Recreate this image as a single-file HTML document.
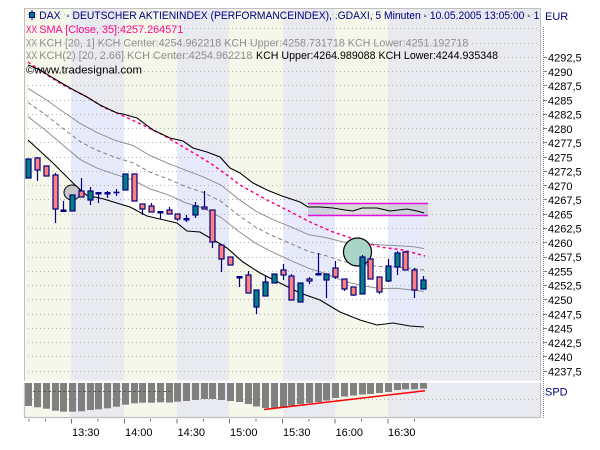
<!DOCTYPE html>
<html><head><meta charset="utf-8"><style>
html,body{margin:0;padding:0;background:#fff;}
svg{display:block;}
text{font-family:"Liberation Sans",sans-serif;font-size:11px;}
</style></head><body>
<svg width="600" height="450" viewBox="0 0 600 450" xmlns="http://www.w3.org/2000/svg">
<defs>
<clipPath id="ch"><polygon points="28,65 40,70 53,78 70,88 87,97 100,105 117,113 123,114 137,118 153,130 170,138 183,141 193,148 207,152 220,157 230,168 240,173 253,183 267,190 282,196 300,202 308,207 320,207 333,208 345,210 353,211 362,208 377,208 390,211 407,209 417,211 424,213 424,327 410,326 393,323 377,325 360,320 340,312 320,300 300,293 280,283 260,273 243,262 227,248 217,242 200,232 187,231 177,223 160,219 147,216 130,207 120,204 102,198.5 87,195.5 75,185 53,163 28,140"/></clipPath>
<clipPath id="plot"><rect x="24" y="8" width="517" height="373"/></clipPath>
</defs>
<rect width="600" height="450" fill="#fff"/>
<!-- main bands -->
<g>
<rect x="24" y="8" width="47" height="372.7" fill="#f4f7e9"/>
<rect x="71" y="8" width="53" height="372.7" fill="#e9e9f0"/>
<rect x="124" y="8" width="53" height="372.7" fill="#f4f7e9"/>
<rect x="177" y="8" width="52" height="372.7" fill="#e9e9f0"/>
<rect x="229" y="8" width="54" height="372.7" fill="#f4f7e9"/>
<rect x="283" y="8" width="52" height="372.7" fill="#e9e9f0"/>
<rect x="335" y="8" width="53" height="372.7" fill="#f4f7e9"/>
<rect x="388" y="8" width="153" height="372.7" fill="#e9e9f0"/>
</g>
<!-- channel fill -->
<g clip-path="url(#ch)">
<rect x="24" y="8" width="47" height="373" fill="#ffffff"/>
<rect x="71" y="8" width="53" height="373" fill="#e6eafb"/>
<rect x="124" y="8" width="53" height="373" fill="#ffffff"/>
<rect x="177" y="8" width="52" height="373" fill="#e6eafb"/>
<rect x="229" y="8" width="54" height="373" fill="#ffffff"/>
<rect x="283" y="8" width="52" height="373" fill="#e6eafb"/>
<rect x="335" y="8" width="53" height="373" fill="#ffffff"/>
<rect x="388" y="8" width="153" height="373" fill="#e6eafb"/>
</g>
<!-- lower bands -->
<g>
<rect x="24" y="382.7" width="47" height="34.3" fill="#f4f7e9"/>
<rect x="71" y="382.7" width="53" height="34.3" fill="#e9e9f0"/>
<rect x="124" y="382.7" width="53" height="34.3" fill="#f4f7e9"/>
<rect x="177" y="382.7" width="52" height="34.3" fill="#e9e9f0"/>
<rect x="229" y="382.7" width="54" height="34.3" fill="#f4f7e9"/>
<rect x="283" y="382.7" width="52" height="34.3" fill="#e9e9f0"/>
<rect x="335" y="382.7" width="53" height="34.3" fill="#f4f7e9"/>
<rect x="388" y="382.7" width="153" height="34.3" fill="#e9e9f0"/>
</g>
<!-- grid -->
<path d="M24 14.5H541M24 28.5H541M24 43.5H541M24 57.5H541M24 71.5H541M24 85.5H541M24 100.5H541M24 114.5H541M24 128.5H541M24 142.5H541M24 157.5H541M24 171.5H541M24 185.5H541M24 199.5H541M24 214.5H541M24 228.5H541M24 242.5H541M24 257.5H541M24 271.5H541M24 285.5H541M24 299.5H541M24 314.5H541M24 328.5H541M24 342.5H541M24 356.5H541M24 371.5H541M24 399.5H541" stroke="#b4b4b4" stroke-width="1" stroke-dasharray="1 3" fill="none"/>
<!-- box -->
<rect x="308" y="203.5" width="120" height="12" fill="#a0a0a8" fill-opacity="0.35"/>
<path d="M308 203.5H428M308 215.5H428" stroke="#e010e0" stroke-width="1.5"/>
<!-- KCH1 upper / lower -->
<polyline fill="none" stroke="#909090" stroke-width="1" points="28,88.4 45,98.9 62,111 80,123.3 97,132.6 115,140.3 133,145.5 150,155.5 168,163.3 186,170.3 203,176.8 221,185 238,198.7 256,211.3 273,219.6 291,226.9 309,234.8 326,237.6 344,242.1 361,243.3 379,244.8 396,245.6 414,246.7 424,248.6"/>
<polyline fill="none" stroke="#909090" stroke-width="1" points="28,116.6 45,129.9 62,144.3 80,159.4 97,168.1 115,174.3 133,180 150,188.9 168,194.8 186,203 203,207.9 221,217.5 238,230.9 256,243.6 273,252.3 291,260.6 309,268.4 326,273.7 344,281.2 361,285.4 379,288.5 396,288.2 414,290.2 424,291.4"/>
<!-- center dashed -->
<polyline fill="none" stroke="#808080" stroke-width="1" stroke-dasharray="4 3" points="28,102.5 45,114.4 62,127.7 80,141.4 97,150.4 115,157.3 133,162.8 150,172.2 168,179 186,186.7 203,192.4 221,201.3 238,214.8 256,227.5 273,236 291,243.8 309,251.6 326,255.7 344,261.7 361,264.3 379,266.6 396,266.9 414,268.5 424,270"/>
<!-- SMA -->
<polyline fill="none" stroke="#ff0080" stroke-width="1.5" stroke-dasharray="3 3" points="28,62 47,75 63,85 87,97 103,107 117,113 130,119 147,127 163,135 180,145 197,155 213,165 227,175 240,185 267,200 287,210 310,222 333,232 357,240 380,247 403,250 425,256"/>
<!-- KCH2 upper / lower -->
<polyline fill="none" stroke="#000" stroke-width="1.1" points="28,65 40,70 53,78 70,88 87,97 100,105 117,113 123,114 137,118 153,130 170,138 183,141 193,148 207,152 220,157 230,168 240,173 253,183 267,190 282,196 300,202 308,207 320,207 333,208 345,210 353,211 362,208 377,208 390,211 407,209 417,211 424,213"/>
<polyline fill="none" stroke="#000" stroke-width="1.1" points="28,140 53,163 75,185 87,195.5 102,198.5 120,204 130,207 147,216 160,219 177,223 187,231 200,232 217,242 227,248 243,262 260,273 280,283 300,293 320,300 340,312 360,320 377,325 393,323 410,326 424,327"/>
<!-- circles -->
<ellipse cx="72" cy="192.5" rx="8" ry="7.5" fill="#c6c6c6" stroke="#000" stroke-width="1"/>
<circle cx="357.5" cy="252" r="14" fill="#a9d5c9" stroke="#000" stroke-width="1.2"/>
<!-- candles -->
<g stroke="#000080" stroke-width="1.2">
<rect x="26" y="159" width="5" height="19" fill="#008080"/>
<line x1="37.5" y1="157" x2="37.5" y2="181"/><rect x="35" y="158" width="5" height="12" fill="#ff8080"/>
<rect x="44" y="166" width="5" height="10" fill="#ff8080"/>
<line x1="55.5" y1="173" x2="55.5" y2="223"/><rect x="53" y="175" width="5" height="34" fill="#ff8080"/>
<line x1="63.5" y1="201" x2="63.5" y2="212"/><rect x="60.5" y="209.5" width="6" height="2.5" fill="#000080" stroke="none"/>
<rect x="70" y="195" width="5" height="16" fill="#008080"/>
<line x1="81.5" y1="178" x2="81.5" y2="197"/><rect x="79" y="191" width="5" height="6" fill="#ff8080"/>
<line x1="90.5" y1="187" x2="90.5" y2="205"/><rect x="88" y="191" width="5" height="9" fill="#008080"/>
<line x1="98.5" y1="193" x2="98.5" y2="203"/><rect x="95.5" y="192" width="6" height="2.5" fill="#000080" stroke="none"/>
<line x1="107.5" y1="191" x2="107.5" y2="198"/><rect x="104.5" y="192" width="6" height="2.5" fill="#000080" stroke="none"/>
<line x1="116.5" y1="189" x2="116.5" y2="196"/><line x1="113.5" y1="192.5" x2="119.5" y2="192.5" stroke-width="1.6"/>
<rect x="123" y="174" width="5" height="16" fill="#008080"/>
<rect x="132" y="174" width="5" height="27" fill="#ff8080"/>
<line x1="142.5" y1="204" x2="142.5" y2="215"/><rect x="140" y="204" width="5" height="5" fill="#ff8080"/>
<line x1="151.5" y1="203" x2="151.5" y2="212"/><rect x="149" y="206" width="5" height="6" fill="#ff8080"/>
<line x1="160.5" y1="212" x2="160.5" y2="219"/><rect x="157.5" y="211" width="6" height="2.5" fill="#000080" stroke="none"/>
<line x1="169.5" y1="207" x2="169.5" y2="214"/><rect x="167" y="210" width="5" height="4" fill="#ff8080"/>
<line x1="177.5" y1="214" x2="177.5" y2="221"/><rect x="175" y="214" width="5" height="5" fill="#ff8080"/>
<line x1="186.5" y1="215" x2="186.5" y2="222"/><rect x="183.5" y="218" width="6" height="2.5" fill="#000080" stroke="none"/>
<line x1="195.5" y1="202" x2="195.5" y2="218"/><rect x="193" y="206" width="5" height="9" fill="#008080"/>
<line x1="204.5" y1="191" x2="204.5" y2="209"/><rect x="202" y="207" width="5" height="2" fill="#ff8080"/>
<line x1="212.5" y1="210" x2="212.5" y2="248"/><rect x="210" y="210" width="5" height="32" fill="#ff8080"/>
<line x1="221.5" y1="245" x2="221.5" y2="272"/><rect x="219" y="245" width="5" height="14" fill="#ff8080"/>
<rect x="228" y="257" width="5" height="8" fill="#ff8080"/>
<line x1="239.5" y1="277" x2="239.5" y2="287"/><rect x="236.5" y="276" width="6" height="2.5" fill="#000080" stroke="none"/>
<line x1="248.5" y1="271" x2="248.5" y2="293"/><rect x="246" y="275" width="5" height="18" fill="#ff8080"/>
<line x1="256.5" y1="290" x2="256.5" y2="314"/><rect x="254" y="290" width="5" height="17" fill="#008080"/>
<line x1="265.5" y1="275" x2="265.5" y2="296"/><rect x="263" y="282" width="5" height="14" fill="#008080"/>
<rect x="272" y="274" width="5" height="9" fill="#008080"/>
<line x1="283.5" y1="264" x2="283.5" y2="280"/><rect x="281" y="270" width="5" height="5" fill="#ff8080"/>
<line x1="291.5" y1="274" x2="291.5" y2="300"/><rect x="289" y="276" width="5" height="24" fill="#ff8080"/>
<rect x="298" y="283" width="5" height="19" fill="#008080"/>
<line x1="309.5" y1="277" x2="309.5" y2="284"/><rect x="307" y="279" width="5" height="2" fill="#ff8080"/>
<line x1="318.5" y1="253" x2="318.5" y2="274"/><rect x="315.5" y="273" width="6" height="2.5" fill="#000080" stroke="none"/>
<line x1="326.5" y1="274" x2="326.5" y2="298"/><rect x="324" y="274" width="5" height="6" fill="#008080"/>
<line x1="335.5" y1="261" x2="335.5" y2="279"/><rect x="333" y="268" width="5" height="9" fill="#ff8080"/>
<line x1="344.5" y1="279" x2="344.5" y2="291"/><rect x="342" y="279" width="5" height="10" fill="#ff8080"/>
<line x1="353.5" y1="287" x2="353.5" y2="296"/><rect x="351" y="287" width="5" height="8" fill="#ff8080"/>
<line x1="362.5" y1="255" x2="362.5" y2="294"/><rect x="360" y="257" width="5" height="37" fill="#008080"/>
<rect x="368" y="259" width="5" height="20" fill="#ff8080"/>
<line x1="379.5" y1="277" x2="379.5" y2="294"/><rect x="377" y="277" width="5" height="15" fill="#ff8080"/>
<line x1="388.5" y1="259" x2="388.5" y2="282"/><rect x="386" y="266" width="5" height="15" fill="#008080"/>
<line x1="397.5" y1="251" x2="397.5" y2="275"/><rect x="395" y="253" width="5" height="14" fill="#008080"/>
<line x1="405.5" y1="251" x2="405.5" y2="270"/><rect x="403" y="252" width="5" height="18" fill="#ff8080"/>
<line x1="414.5" y1="268" x2="414.5" y2="298"/><rect x="412" y="270" width="5" height="20" fill="#ff8080"/>
<line x1="423.5" y1="276" x2="423.5" y2="289"/><rect x="421" y="280" width="5" height="9" fill="#008080"/>
</g>
<!-- separator -->
<rect x="24" y="380.7" width="517" height="2" fill="#fff"/>
<!-- lower panel bars -->
<g fill="#808080">
<rect x="25" y="383" width="7" height="23"/>
<rect x="34" y="383" width="7" height="24.3"/>
<rect x="43" y="383" width="7" height="25.7"/>
<rect x="52" y="383" width="7" height="27.7"/>
<rect x="60" y="383" width="7" height="28.7"/>
<rect x="69" y="383" width="7" height="28.7"/>
<rect x="78" y="383" width="7" height="28.3"/>
<rect x="87" y="383" width="7" height="27"/>
<rect x="95" y="383" width="7" height="26.3"/>
<rect x="104" y="383" width="7" height="25.3"/>
<rect x="113" y="383" width="7" height="23.7"/>
<rect x="122" y="383" width="7" height="21.7"/>
<rect x="131" y="383" width="7" height="20.3"/>
<rect x="139" y="383" width="7" height="19.7"/>
<rect x="148" y="383" width="7" height="19.7"/>
<rect x="157" y="383" width="7" height="19.3"/>
<rect x="166" y="383" width="7" height="19.5"/>
<rect x="174" y="383" width="7" height="18.7"/>
<rect x="183" y="383" width="7" height="18"/>
<rect x="192" y="383" width="7" height="17"/>
<rect x="201" y="383" width="7" height="16"/>
<rect x="209" y="383" width="7" height="16"/>
<rect x="218" y="383" width="7" height="17"/>
<rect x="227" y="383" width="7" height="18"/>
<rect x="236" y="383" width="7" height="19"/>
<rect x="245" y="383" width="7" height="21"/>
<rect x="253" y="383" width="7" height="23.5"/>
<rect x="262" y="383" width="7" height="25"/>
<rect x="271" y="383" width="7" height="25"/>
<rect x="280" y="383" width="7" height="24"/>
<rect x="288" y="383" width="7" height="22.5"/>
<rect x="297" y="383" width="7" height="21"/>
<rect x="306" y="383" width="7" height="20"/>
<rect x="315" y="383" width="7" height="19"/>
<rect x="323" y="383" width="7" height="17.5"/>
<rect x="332" y="383" width="7" height="15"/>
<rect x="341" y="383" width="7" height="13.5"/>
<rect x="350" y="383" width="7" height="12.5"/>
<rect x="359" y="383" width="7" height="11.5"/>
<rect x="367" y="383" width="7" height="11"/>
<rect x="376" y="383" width="7" height="10"/>
<rect x="385" y="383" width="7" height="9"/>
<rect x="394" y="383" width="7" height="7"/>
<rect x="402" y="383" width="7" height="6.3"/>
<rect x="411" y="383" width="7" height="6.3"/>
<rect x="420" y="383" width="7" height="5.7"/>
</g>
<line x1="33" y1="391.5" x2="173" y2="391.5" stroke="#5e5e5e" stroke-width="1" stroke-dasharray="3 2"/>
<line x1="264" y1="409.5" x2="425" y2="390.8" stroke="#ff0000" stroke-width="1.5"/>
<!-- borders -->
<path d="M24.5 380.5V8.5H540.5V380.5" fill="none" stroke="#c0c0c0" stroke-width="1"/>
<path d="M24.5 382.7V417.5H540.5V382.7" fill="none" stroke="#c0c0c0" stroke-width="1.2"/>
<!-- right axis -->
<line x1="543.5" y1="27" x2="543.5" y2="418" stroke="#808080" stroke-width="1" stroke-dasharray="1 1"/>
<path d="M543 57.5h4M543 71.5h4M543 85.5h4M543 100.5h4M543 114.5h4M543 128.5h4M543 142.5h4M543 157.5h4M543 171.5h4M543 185.5h4M543 199.5h4M543 214.5h4M543 228.5h4M543 242.5h4M543 257.5h4M543 271.5h4M543 285.5h4M543 299.5h4M543 314.5h4M543 328.5h4M543 342.5h4M543 356.5h4M543 371.5h4" stroke="#808080" stroke-width="1"/>
<g fill="#000">
<text x="548" y="61.5">4292,5</text>
<text x="548" y="75.8">4290</text>
<text x="548" y="90">4287,5</text>
<text x="548" y="104.3">4285</text>
<text x="548" y="118.6">4282,5</text>
<text x="548" y="132.8">4280</text>
<text x="548" y="147.1">4277,5</text>
<text x="548" y="161.4">4275</text>
<text x="548" y="175.6">4272,5</text>
<text x="548" y="189.9">4270</text>
<text x="548" y="204.1">4267,5</text>
<text x="548" y="218.4">4265</text>
<text x="548" y="232.7">4262,5</text>
<text x="548" y="246.9">4260</text>
<text x="548" y="261.2">4257,5</text>
<text x="548" y="275.5">4255</text>
<text x="548" y="289.7">4252,5</text>
<text x="548" y="304">4250</text>
<text x="548" y="318.3">4247,5</text>
<text x="548" y="332.5">4245</text>
<text x="548" y="346.8">4242,5</text>
<text x="548" y="361.1">4240</text>
<text x="548" y="375.3">4237,5</text>
</g>
<text x="545" y="20" fill="#000080">EUR</text>
<text x="545" y="395.5" fill="#000080">SPD</text>
<!-- x axis ticks -->
<path d="M29 419v2.5M45.5 419v2.5M71.5 419v4.5M98 419v2.5M124.5 419v4.5M150.5 419v2.5M177 419v4.5M203.5 419v2.5M229.5 419v4.5M256 419v2.5M282.5 419v4.5M309 419v2.5M335 419v4.5M361.5 419v2.5M388 419v4.5M414.5 419v2.5" stroke="#707070" stroke-width="1"/>
<g fill="#000">
<text x="72" y="436">13:30</text>
<text x="125" y="436">14:00</text>
<text x="177.5" y="436">14:30</text>
<text x="230" y="436">15:00</text>
<text x="283" y="436">15:30</text>
<text x="335.5" y="436">16:00</text>
<text x="388" y="436">16:30</text>
</g>
<!-- header legend -->
<line x1="32" y1="10" x2="32" y2="20" stroke="#000080" stroke-width="1"/>
<rect x="29.5" y="12.5" width="5" height="5" fill="#008080" stroke="#000080" stroke-width="1"/>
<text x="39.3" y="19" textLength="500" lengthAdjust="spacingAndGlyphs" fill="#000080" style="white-space:pre">DAX  - DEUTSCHER AKTIENINDEX (PERFORMANCEINDEX), .GDAXI, 5 Minuten - 10.05.2005 13:05:00 - 1</text>
<text x="26" y="33" textLength="11" lengthAdjust="spacingAndGlyphs" fill="#ff0a8c">XX</text>
<text x="39.3" y="33" textLength="144" lengthAdjust="spacingAndGlyphs" fill="#ff0a8c">SMA [Close, 35]:4257.264571</text>
<text x="26" y="46.5" textLength="11" lengthAdjust="spacingAndGlyphs" fill="#909090">XX</text>
<text x="39.3" y="46.5" textLength="429" lengthAdjust="spacingAndGlyphs" fill="#909090">KCH [20, 1] KCH Center:4254.962218 KCH Upper:4258.731718 KCH Lower:4251.192718</text>
<text x="26" y="59" textLength="11" lengthAdjust="spacingAndGlyphs" fill="#909090">XX</text>
<text x="39.3" y="59" textLength="213" lengthAdjust="spacingAndGlyphs" fill="#909090">KCH(2) [20, 2.66] KCH Center:4254.962218</text>
<text x="256" y="59" textLength="242" lengthAdjust="spacingAndGlyphs" fill="#000">KCH Upper:4264.989088 KCH Lower:4244.935348</text>
<text x="26" y="73.3" textLength="116" lengthAdjust="spacingAndGlyphs" fill="#000">©www.tradesignal.com</text>
</svg>
</body></html>
